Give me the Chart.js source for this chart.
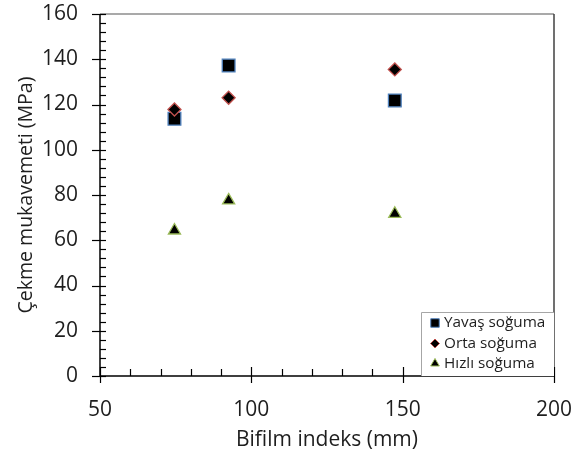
<!DOCTYPE html>
<html>
<head>
<meta charset="utf-8">
<script src="https://cdn.jsdelivr.net/npm/chart.js@4/dist/chart.umd.min.js"></script>
<style>
html,body{margin:0;padding:0;background:#fff;}
#wrap{width:574px;height:459px;position:relative;}
</style>
</head>
<body>
<div id="wrap"><canvas id="c" width="574" height="459"></canvas></div>
<script>
const seriesNames = ['Yavaş soğuma', 'Orta soğuma', 'Hızlı soğuma'];
const bifilmX = [74.6, 92.5, 147.4];
const yavasValues = [113.7, 137.2, 121.8];
const ortaValues = [117.8, 123.0, 135.5];
const hizliValues = [64.3, 77.6, 71.7];
const xTicks = [50, 100, 150, 200];
const yTicks = [0, 20, 40, 60, 80, 100, 120, 140, 160];
const xTitle = 'Bifilm indeks (mm)';
const yTitle = 'Çekme mukavemeti (MPa)';

const FONT = '"Open Sans", sans-serif';
const TXT = '#1e1e1e';

function pts(vals){ return bifilmX.map((x,i)=>({x:x,y:vals[i]})); }

const styles = [
  {pointStyle:'rect', radius:9, border:'#4f81bd'},
  {pointStyle:'rectRot', radius:6.5, border:'#c0504d'},
  {pointStyle:'triangle', radius:7, border:'#9bbb59'}
];
const allVals = [yavasValues, ortaValues, hizliValues];

const datasets = allVals.map((v,i)=>({
  label: seriesNames[i],
  data: pts(v),
  pointStyle: styles[i].pointStyle,
  pointRadius: styles[i].radius,
  pointHoverRadius: styles[i].radius,
  pointBackgroundColor: '#000',
  pointBorderColor: styles[i].border,
  pointBorderWidth: 1.3,
  showLine: false,
  order: 3 - i
}));

const tickPlugin = {
  id: 'ticksAndFrame',
  afterDatasetsDraw(chart){
    const {ctx, chartArea:a, scales:{x, y}} = chart;
    ctx.save();
    ctx.lineWidth = 1.5;
    ctx.strokeStyle = '#8c8c8c';
    ctx.beginPath(); ctx.moveTo(a.left, a.top); ctx.lineTo(a.right, a.top); ctx.stroke();
    ctx.strokeStyle = '#404040';
    ctx.beginPath(); ctx.moveTo(a.right, a.top); ctx.lineTo(a.right, a.bottom); ctx.stroke();
    ctx.strokeStyle = '#000';
    ctx.lineWidth = 1.5;
    ctx.beginPath(); ctx.moveTo(a.left, a.top); ctx.lineTo(a.left, a.bottom); ctx.lineTo(a.right, a.bottom); ctx.stroke();
    ctx.lineWidth = 1.2;
    for (let v = y.min; v <= y.max + 0.001; v += 4) {
      const py = Math.round(y.getPixelForValue(v)) + 0.5;
      const major = Math.abs(v % 20) < 0.001;
      ctx.beginPath();
      ctx.moveTo(a.left - (major ? 8 : 0), py);
      ctx.lineTo(a.left + 6, py);
      ctx.stroke();
    }
    for (let v = x.min; v <= x.max + 0.001; v += 10) {
      const px = Math.round(x.getPixelForValue(v)) + 0.5;
      const major = Math.abs(v % 50) < 0.001;
      ctx.beginPath();
      ctx.moveTo(px, a.bottom + (major ? 7 : 0));
      ctx.lineTo(px, a.bottom - (major ? 9 : 7));
      ctx.stroke();
    }
    ctx.restore();
  }
};

const legendPlugin = {
  id: 'insideLegend',
  afterDraw(chart){
    const {ctx, chartArea:a} = chart;
    const left = 421, top = 312, right = a.right, bottom = a.bottom;
    ctx.save();
    ctx.fillStyle = '#fff';
    ctx.fillRect(left, top, right-left, bottom-top);
    ctx.strokeStyle = '#a6a6a6';
    ctx.lineWidth = 1;
    ctx.beginPath();
    ctx.moveTo(left+0.5, bottom); ctx.lineTo(left+0.5, top+0.5); ctx.lineTo(right, top+0.5);
    ctx.stroke();
    const rows = [323, 343.5, 363.5];
    const legendRadius = [6, 4.5, 5];
    chart.data.datasets.forEach((ds,i)=>{
      const opts = { pointStyle: ds.pointStyle, radius: legendRadius[i], rotation: 0, borderWidth: 1 };
      ctx.fillStyle = '#000';
      ctx.strokeStyle = ds.pointBorderColor;
      ctx.lineWidth = 1;
      Chart.helpers.drawPoint(ctx, opts, 435, rows[i]);
      ctx.fillStyle = TXT;
      ctx.font = '15.3px ' + FONT;
      ctx.textBaseline = 'middle';
      ctx.textAlign = 'left';
      ctx.fillText(ds.label, 444, rows[i]);
    });
    ctx.restore();
  }
};

new Chart(document.getElementById('c'), {
  type: 'scatter',
  data: { datasets },
  options: {
    responsive: false,
    animation: false,
    layout: { padding: { left: 0, right: 20, top: 14, bottom: 0 } },
    plugins: { legend: { display: false }, tooltip: { enabled: false } },
    scales: {
      x: {
        type: 'linear', min: 50, max: 200,
        afterBuildTicks(s){ s.ticks = xTicks.map(v=>({value:v})); },
        afterFit(s){ s.height = 83; s.paddingLeft = 0; s.paddingRight = 0; },
        grid: { display: false, drawTicks: false },
        border: { display: false },
        ticks: { color: TXT, font: { family: FONT, size: 21 }, padding: 21, maxRotation: 0 },
        title: { display: true, text: xTitle, color: TXT, font: { family: FONT, size: 21 }, padding: { top: 0, bottom: 6.5 } }
      },
      y: {
        type: 'linear', min: 0, max: 160,
        afterBuildTicks(s){ s.ticks = yTicks.map(v=>({value:v})); },
        afterFit(s){ s.width = 100; s.paddingTop = 0; s.paddingBottom = 0; },
        grid: { display: false, drawTicks: false },
        border: { display: false },
        ticks: { color: TXT, font: { family: FONT, size: 21 }, padding: 22 },
        title: { display: true, text: yTitle, color: TXT, font: { family: FONT, size: 19.5 }, padding: { top: 14.5, bottom: 0 } }
      }
    }
  },
  plugins: [tickPlugin, legendPlugin]
});
</script>
</body>
</html>
